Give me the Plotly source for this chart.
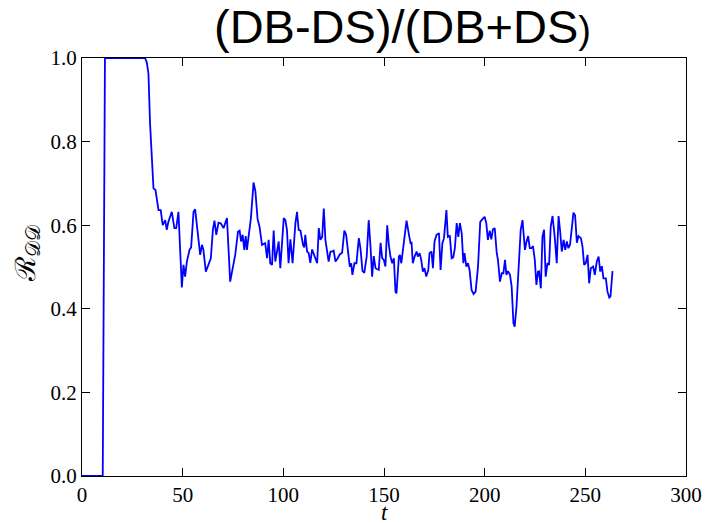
import plotly.graph_objects as go

# Time samples and the ratio R_DD = (DB-DS)/(DB+DS)
t = [0, 10.3, 11.4, 31.3, 32.2, 33.0, 33.8, 34.7, 35.5, 36.5, 38.0, 39.1, 40.1, 41.3, 42.1, 42.9,
     44.6, 45.9, 46.8, 47.9, 49.6, 50.4, 51.2, 52.1, 53.4, 54.2, 55.4, 56.2, 57.4, 58.7, 59.6,
     60.3, 61.5, 62.8, 64.0, 65.0, 65.8, 66.7, 67.8, 69.0, 70.3, 72.0, 73.6, 75.0, 76.1, 77.5,
     78.3, 79.0, 79.8, 80.6, 81.3, 81.9, 83.9, 85.2, 86.1, 87.2, 88.2, 89.4, 91.0, 91.9, 92.7,
     93.5, 94.4, 95.2, 96.0, 97.7, 98.5, 100.2, 101.0, 101.8, 102.6, 103.5, 104.6, 106.0, 106.8,
     107.6, 108.5, 109.8, 110.4, 110.9, 111.8, 112.6, 113.4, 114.3, 115.4, 116.8, 117.6, 118.4,
     119.3, 120.1, 120.9, 122.5, 123.4, 124.2, 125.0, 125.9, 127.0, 128.0, 129.2, 130.3, 131.2,
     132.2, 133.0, 133.7, 134.3, 135.3, 136.3, 137.5, 138.3, 139.3, 140.2, 141.4, 142.4, 143.3,
     144.1, 144.9, 145.8, 147.4, 148.3, 149.1, 149.9, 150.7, 151.6, 152.4, 153.2, 154.1, 154.9,
     155.7, 156.2, 157.4, 157.9, 158.6, 159.6, 160.4, 161.2, 162.4, 163.2, 163.7, 164.3, 165.2,
     166.2, 166.8, 167.7, 168.5, 169.3, 170.1, 171.0, 172.0, 172.6, 173.6, 174.3, 175.1, 176.1,
     177.3, 178.1, 179.0, 179.8, 181.0, 181.7, 182.7, 183.6, 184.4, 185.2, 186.1, 186.9, 187.7,
     188.6, 189.4, 190.0, 190.9, 191.7, 192.5, 193.5, 194.5, 195.5, 196.7, 197.8, 198.8, 200.0,
     200.8, 201.6, 202.5, 203.3, 204.1, 205.0, 206.0, 206.6, 207.6, 208.5, 209.3, 210.1, 210.8,
     211.6, 212.6, 213.4, 214.3, 214.9, 215.8, 216.8, 217.9, 218.8, 220.0, 220.8, 221.6, 222.4,
     223.2, 224.0, 224.9, 225.7, 226.5, 227.0, 227.9, 228.7, 229.5, 230.3, 231.2, 232.0, 232.8,
     233.7, 234.8, 235.8, 236.7, 237.5, 238.3, 239.2, 240.0, 240.8, 241.6, 242.4, 243.3, 244.1,
     244.9, 245.8, 246.6, 247.8, 248.6, 249.4, 250.2, 251.1, 251.9, 252.7, 253.9, 254.7, 255.7,
     256.6, 257.4, 258.2, 259.0, 260.2, 261.0, 261.9, 262.5, 263.5]

r_dd = [0.0, 0.0, 1.0, 1.0, 0.989, 0.963, 0.844, 0.740, 0.688, 0.684, 0.636, 0.636, 0.600, 0.612,
        0.589, 0.608, 0.632, 0.593, 0.593, 0.632, 0.451, 0.505, 0.477, 0.513, 0.541, 0.547, 0.632,
        0.638, 0.589, 0.529, 0.553, 0.541, 0.489, 0.505, 0.521, 0.589, 0.611, 0.577, 0.606, 0.604,
        0.593, 0.617, 0.465, 0.501, 0.529, 0.585, 0.587, 0.561, 0.577, 0.541, 0.574, 0.541, 0.617,
        0.702, 0.682, 0.615, 0.596, 0.553, 0.557, 0.521, 0.565, 0.509, 0.505, 0.587, 0.513, 0.561,
        0.497, 0.617, 0.612, 0.589, 0.509, 0.566, 0.509, 0.605, 0.632, 0.589, 0.587, 0.553, 0.547,
        0.577, 0.537, 0.533, 0.510, 0.542, 0.529, 0.509, 0.593, 0.565, 0.572, 0.640, 0.565, 0.513,
        0.537, 0.537, 0.539, 0.513, 0.521, 0.530, 0.534, 0.587, 0.577, 0.529, 0.501, 0.509, 0.481,
        0.509, 0.509, 0.569, 0.545, 0.491, 0.486, 0.525, 0.612, 0.549, 0.477, 0.526, 0.497, 0.493,
        0.558, 0.521, 0.517, 0.501, 0.600, 0.553, 0.525, 0.509, 0.521, 0.441, 0.437, 0.525, 0.529,
        0.509, 0.553, 0.589, 0.611, 0.577, 0.557, 0.558, 0.509, 0.525, 0.537, 0.525, 0.533, 0.517,
        0.489, 0.497, 0.477, 0.493, 0.533, 0.537, 0.497, 0.561, 0.577, 0.581, 0.493, 0.557, 0.569,
        0.636, 0.572, 0.574, 0.521, 0.523, 0.545, 0.605, 0.572, 0.605, 0.581, 0.509, 0.533, 0.501,
        0.509, 0.493, 0.445, 0.435, 0.441, 0.501, 0.608, 0.614, 0.620, 0.605, 0.565, 0.587, 0.566,
        0.590, 0.593, 0.533, 0.517, 0.465, 0.485, 0.485, 0.517, 0.481, 0.490, 0.481, 0.453, 0.365,
        0.357, 0.405, 0.501, 0.589, 0.612, 0.541, 0.561, 0.574, 0.545, 0.545, 0.550, 0.517, 0.457,
        0.489, 0.490, 0.449, 0.572, 0.589, 0.477, 0.509, 0.505, 0.596, 0.622, 0.572, 0.509, 0.622,
        0.585, 0.537, 0.565, 0.541, 0.561, 0.545, 0.553, 0.600, 0.630, 0.624, 0.558, 0.574, 0.569,
        0.549, 0.505, 0.509, 0.529, 0.461, 0.497, 0.501, 0.481, 0.513, 0.525, 0.489, 0.502, 0.473,
        0.473, 0.441, 0.427, 0.430, 0.490]

x_ticks = [0, 50, 100, 150, 200, 250, 300]
y_ticks = [0.0, 0.2, 0.4, 0.6, 0.8, 1.0]

serif = "Liberation Serif"

fig = go.Figure()
fig.add_trace(go.Scatter(x=t, y=r_dd, mode="lines",
                         line=dict(color="#0000ff", width=1.8), showlegend=False))

axis_common = dict(showline=True, linecolor="black", linewidth=1, mirror="ticks",
                   ticks="inside", ticklen=8, tickwidth=1, tickcolor="black",
                   showgrid=False, zeroline=False, layer="below traces", automargin=False,
                   tickfont=dict(family=serif, size=21, color="black"))

fig.update_xaxes(range=[0, 300], tickvals=x_ticks,
                 ticktext=[str(v) for v in x_ticks], **axis_common)
fig.update_yaxes(range=[0, 1], tickvals=y_ticks,
                 ticktext=[f"{v:.1f}" for v in y_ticks], **axis_common)

fig.update_layout(
    width=707, height=523,
    margin=dict(l=82, r=21, t=58, b=47, autoexpand=False),
    paper_bgcolor="white", plot_bgcolor="white",
    annotations=[
        # title above the axes
        dict(text="(DB-DS)/(DB+DS<span style='font-size:38px'>)</span>",
             xref="paper", yref="paper", x=(402 - 82) / 604, y=1,
             xanchor="center", yanchor="bottom", yshift=3, showarrow=False,
             font=dict(family="Liberation Sans", size=47, color="black")),
        # x-axis label
        dict(text="<i>t</i>", xref="paper", yref="paper", x=0.5, y=0,
             xanchor="center", yanchor="middle", yshift=-36, showarrow=False,
             height=18, borderpad=0, valign="middle",
             font=dict(family=serif, size=23, color="black")),
        # y-axis label
        dict(text="ℛ<sub>𝒟𝒟</sub>", xref="paper", yref="paper", x=0, y=0.5,
             xanchor="right", yanchor="middle", xshift=-36, yshift=14, textangle=-90,
             showarrow=False, font=dict(family=serif, size=28, color="black")),
    ],
)

fig.write_html("out.html")
